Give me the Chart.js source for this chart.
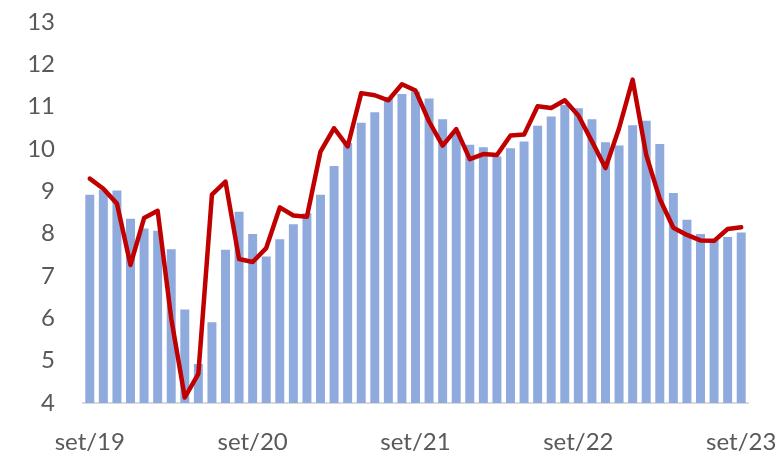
<!DOCTYPE html>
<html lang="pt">
<head>
    <meta charset="UTF-8">
    <title>Série mensal set/19 - set/23</title>
    <script src="https://cdn.jsdelivr.net/npm/chart.js"></script>
    <style>
        html, body { margin: 0; padding: 0; background: #ffffff; }
        #wrap { width: 781px; height: 454px; }
    </style>
</head>
<body>
    <div id="wrap">
        <canvas id="grafico" width="781" height="454"></canvas>
    </div>

    <script>
        // Meses de set/19 a set/23
        const meses = [
            'set/19', 'out/19', 'nov/19', 'dez/19', 'jan/20', 'fev/20', 'mar/20', 'abr/20', 'mai/20', 'jun/20', 'jul/20', 'ago/20',
            'set/20', 'out/20', 'nov/20', 'dez/20', 'jan/21', 'fev/21', 'mar/21', 'abr/21', 'mai/21', 'jun/21', 'jul/21', 'ago/21',
            'set/21', 'out/21', 'nov/21', 'dez/21', 'jan/22', 'fev/22', 'mar/22', 'abr/22', 'mai/22', 'jun/22', 'jul/22', 'ago/22',
            'set/22', 'out/22', 'nov/22', 'dez/22', 'jan/23', 'fev/23', 'mar/23', 'abr/23', 'mai/23', 'jun/23', 'jul/23', 'ago/23',
            'set/23'
        ];

        // Barras (azul)
        const serieBarras = [
            8.92, 9.04, 9.02, 8.35, 8.12, 8.07, 7.63, 6.21, 4.92, 5.91,
            7.62, 8.52, 7.99, 7.46, 7.87, 8.22, 8.48, 8.92, 9.60, 10.14,
            10.62, 10.87, 11.23, 11.30, 11.36, 11.19, 10.70, 10.41, 10.10, 10.04,
            9.82, 10.02, 10.18, 10.55, 10.77, 11.04, 10.96, 10.70, 10.16, 10.08,
            10.56, 10.67, 10.12, 8.96, 8.33, 7.99, 7.85, 7.92, 8.03
        ];

        // Linha (vermelha)
        const serieLinha = [
            9.30, 9.06, 8.71, 7.26, 8.37, 8.54, 6.00, 4.13, 4.69, 8.92,
            9.23, 7.40, 7.33, 7.66, 8.62, 8.43, 8.40, 9.94, 10.49, 10.06,
            11.32, 11.27, 11.15, 11.53, 11.38, 10.65, 10.08, 10.47, 9.76, 9.88,
            9.86, 10.32, 10.34, 11.01, 10.97, 11.15, 10.79, 10.18, 9.55, 10.49,
            11.64, 9.86, 8.82, 8.14, 7.97, 7.84, 7.83, 8.11, 8.15
        ];

        const eixoMin = 4;
        const eixoMax = 13;

        const corTexto = '#595959';
        const fonte = { family: 'Lato, "Open Sans", sans-serif', size: 24 };

        const ctx = document.getElementById('grafico').getContext('2d');
        new Chart(ctx, {
            type: 'bar',
            data: {
                labels: meses,
                datasets: [
                    {
                        type: 'line',
                        data: serieLinha,
                        borderColor: '#c00000',
                        borderWidth: 4.5,
                        pointRadius: 0,
                        tension: 0,
                        borderJoinStyle: 'round',
                        borderCapStyle: 'round',
                        clip: false,
                        order: 0
                    },
                    {
                        data: serieBarras,
                        backgroundColor: '#8faadc',
                        barPercentage: 0.66,
                        categoryPercentage: 1,
                        order: 1
                    }
                ]
            },
            options: {
                responsive: false,
                animation: false,
                layout: {
                    padding: { top: 22, right: 33, bottom: 0, left: 0 }
                },
                plugins: {
                    legend: { display: false },
                    tooltip: { enabled: false }
                },
                scales: {
                    x: {
                        grid: { display: false, drawTicks: false },
                        border: { display: true, color: '#d9d9d9', width: 2 },
                        ticks: {
                            autoSkip: false,
                            maxRotation: 0,
                            padding: 25,
                            color: corTexto,
                            font: fonte,
                            callback: function (valor, indice) {
                                return indice % 12 === 0 ? meses[indice] : null;
                            }
                        },
                        afterFit: function (escala) {
                            escala.height = 51;
                            // os rótulos das pontas não empurram a área do gráfico
                            escala.paddingLeft = 0;
                            escala.paddingRight = 0;
                        }
                    },
                    y: {
                        min: eixoMin,
                        max: eixoMax,
                        grid: { display: false, drawTicks: false },
                        border: { display: false },
                        ticks: {
                            stepSize: 1,
                            padding: 28,
                            color: corTexto,
                            font: fonte
                        },
                        afterFit: function (escala) {
                            escala.width = 83;
                            escala.paddingTop = 0;
                            escala.paddingBottom = 0;
                        }
                    }
                }
            }
        });
    </script>
</body>
</html>
